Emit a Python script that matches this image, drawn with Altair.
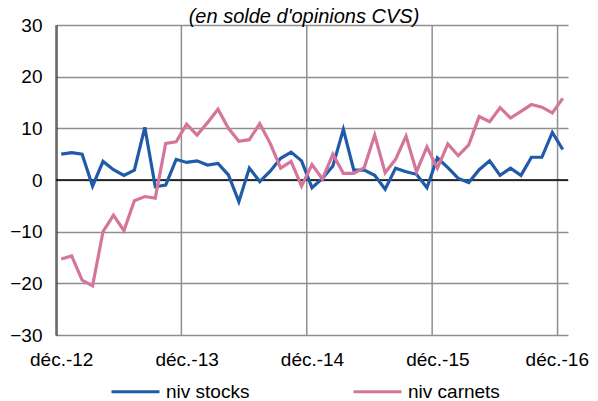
import altair as alt
import pandas as pd

# ---- data (monthly, déc. 2012 -> déc. 2016) ----
months = list(range(49))
niv_stocks = [5.0, 5.3, 5.0, -1.2, 3.6, 2.0, 0.9, 1.9, 10.2, -1.3,
              -1.0, 4.0, 3.4, 3.7, 2.9, 3.2, 1.0, -4.2, 2.3, -0.3,
              1.7, 4.2, 5.4, 3.7, -1.5, 0.3, 2.7, 9.8, 1.9, 1.9,
              0.9, -1.8, 2.3, 1.6, 1.1, -1.5, 4.3, 2.4, 0.3, -0.5,
              2.0, 3.7, 0.9, 2.3, 0.9, 4.4, 4.4, 9.2, 5.9]
niv_carnets = [-15.3, -14.7, -19.4, -20.5, -10.0, -6.8, -9.8, -4.0, -3.2, -3.5,
               7.1, 7.4, 10.8, 8.7, 11.1, 13.7, 10.0, 7.5, 7.8, 10.9,
               7.1, 2.3, 3.6, -1.2, 3.0, 0.2, 5.0, 1.3, 1.3, 2.4,
               8.7, 1.4, 4.0, 8.5, 1.6, 6.4, 2.3, 7.0, 4.7, 6.8,
               12.3, 11.3, 14.0, 12.0, 13.3, 14.6, 14.1, 13.0, 15.8]
series_names = ["niv stocks", "niv carnets"]
series_colors = ["#1F5BA8", "#D5759B"]
tick_months = [0, 12, 24, 36, 48]
tick_labels = ["déc.-12", "déc.-13", "déc.-14", "déc.-15", "déc.-16"]
year_bounds = [-0.5, 11.5, 23.5, 35.5, 47.5]
y_ticks = [-30, -20, -10, 0, 10, 20, 30]
title_text = ["(en solde d'opinions CVS)"]

FONT = "Liberation Sans"
GRID = "#8F8F8F"

df = pd.DataFrame({
    "m": months * 2,
    "v": niv_stocks + niv_carnets,
    "s": [series_names[0]] * len(months) + [series_names[1]] * len(months),
})

xscale = alt.Scale(domain=[-0.5, 48.5], nice=False, zero=False)
yscale = alt.Scale(domain=[-30, 30], nice=False, zero=False)

label_map = "{" + ",".join(f"'{m}':'{l}'" for m, l in zip(tick_months, tick_labels)) + "}"
label_expr = f"{label_map}[''+datum.value]"

x_axis = alt.Axis(values=tick_months, labelExpr=label_expr, grid=False,
                  domain=False, ticks=False, title=None,
                  labelFontSize=19, labelFont=FONT, labelColor="black",
                  labelPadding=15, labelFlush=False,
                  labelOffset=alt.condition(f"datum.value == {tick_months[-1]}",
                                            alt.value(-6), alt.value(0)))
y_axis = alt.Axis(values=y_ticks, grid=True, gridColor=GRID, gridWidth=1.5,
                  domain=True, domainColor="black", domainWidth=2,
                  ticks=False, title=None, labelFontSize=19, labelFont=FONT,
                  labelColor="black", labelPadding=14)

vgrid = alt.Chart(pd.DataFrame({"x": year_bounds})).mark_rule(
    color=GRID, strokeWidth=1.5
).encode(x=alt.X("x:Q", scale=xscale, axis=x_axis))

zero = alt.Chart(pd.DataFrame({"y": [0]})).mark_rule(
    color="black", strokeWidth=1.5
).encode(y=alt.Y("y:Q", scale=yscale, axis=y_axis))

lines = alt.Chart(df).mark_line(strokeWidth=3.2).encode(
    x=alt.X("m:Q", scale=xscale, axis=x_axis),
    y=alt.Y("v:Q", scale=yscale, axis=y_axis),
    color=alt.Color("s:N",
                    scale=alt.Scale(domain=series_names, range=series_colors),
                    sort=series_names,
                    legend=alt.Legend(orient="none", legendX=54, legendY=341,
                                      direction="horizontal", title=None,
                                      symbolType="stroke", symbolSize=2304,
                                      symbolStrokeWidth=3, labelFontSize=19,
                                      labelFont=FONT, labelColor="black",
                                      labelOffset=5, columnPadding=97, padding=0)),
    detail="s:N",
)

title = alt.Chart(pd.DataFrame({"t": title_text})).mark_text(
    font=FONT, fontSize=20, fontStyle="italic", color="black",
    align="center", baseline="alphabetic"
).encode(text="t:N", x=alt.value(248), y=alt.value(-2))

chart = alt.layer(vgrid, zero, lines, title).properties(
    width=512,
    height=310,
    padding={"left": 48, "top": 17, "right": 22, "bottom": 66},
    autosize=alt.AutoSizeParams(type="none"),
).configure_view(stroke=None)

chart.save("out.html", embed_options={"renderer": "svg", "actions": False})
